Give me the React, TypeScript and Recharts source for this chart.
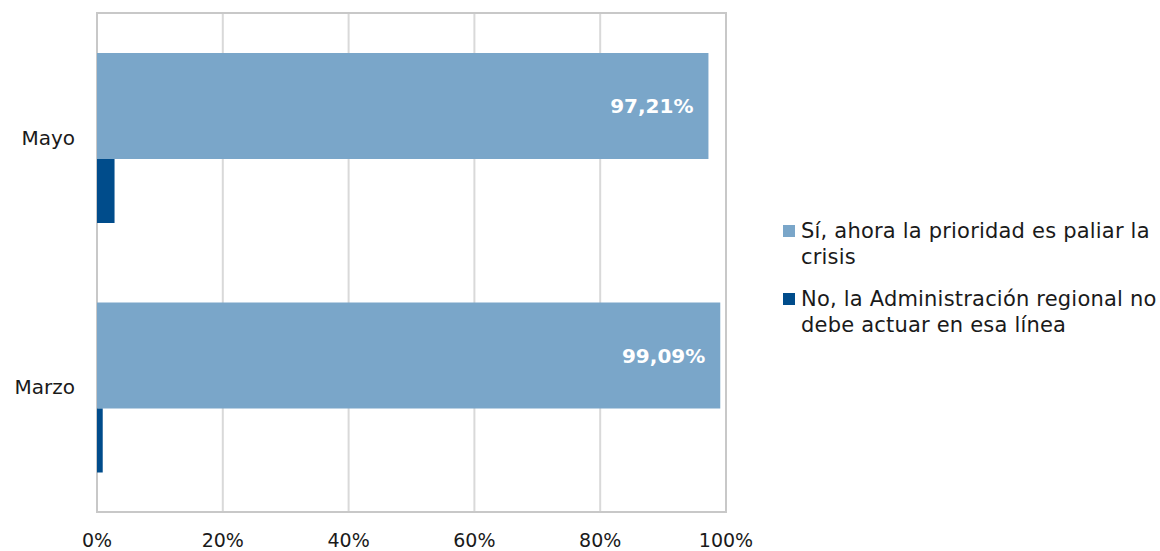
import React from 'react';
import {
  BarChart,
  Bar,
  XAxis,
  YAxis,
  CartesianGrid,
  LabelList,
  ReferenceArea
} from 'recharts';

const categories = ['Mayo', 'Marzo'];
const siValues = [97.21, 99.09];
const noValues = [2.79, 0.91];
const xTicks = [0, 20, 40, 60, 80, 100];

const SERIES = [
  { key: 'si', lines: ['Sí, ahora la prioridad es paliar la', 'crisis'], color: '#7aa6c9' },
  { key: 'no', lines: ['No, la Administración regional no', 'debe actuar en esa línea'], color: '#004c8b' }
];

const data = categories.map((name, i) => ({
  name,
  si: siValues[i],
  no: noValues[i]
}));

const FONT = '"DejaVu Sans", Verdana, sans-serif';

const formatPct = (v: number) => v.toFixed(2).replace('.', ',') + '%';

const App: React.FC = () => {
  return (
    <div
      style={{
        position: 'absolute',
        left: 0,
        top: 0,
        width: 1160,
        height: 551,
        background: '#ffffff',
        fontFamily: FONT
      }}
    >
      <BarChart
        width={1160}
        height={551}
        data={data}
        layout="vertical"
        barGap={0}
        margin={{ top: 13, right: 434, left: 0, bottom: 0 }}
      >
        <CartesianGrid horizontal={false} stroke="#d9d9d9" strokeWidth={2} />
        <ReferenceArea
          x1={0}
          x2={100}
          fill="none"
          stroke="#c8c8c8"
          strokeWidth={2}
          ifOverflow="visible"
        />
        <XAxis
          type="number"
          domain={[0, 100]}
          ticks={xTicks}
          tickFormatter={(v) => `${v}%`}
          axisLine={false}
          tickLine={false}
          tickSize={0}
          tickMargin={22}
          height={39}
          tick={{ fontSize: 19, fill: '#1a1a1a', fontFamily: FONT }}
        />
        <YAxis
          type="category"
          dataKey="name"
          axisLine={false}
          tickLine={false}
          tickSize={0}
          tickMargin={22}
          width={97}
          tick={{ fontSize: 20, fill: '#1a1a1a', fontFamily: FONT }}
        />
        <Bar dataKey="si" fill={SERIES[0].color} barSize={106} isAnimationActive={false}>
          <LabelList
            dataKey="si"
            position="insideRight"
            offset={15}
            formatter={(v: any) => formatPct(Number(v))}
            style={{ fill: '#ffffff', fontWeight: 'bold', fontSize: 20, fontFamily: FONT }}
          />
        </Bar>
        <Bar dataKey="no" fill={SERIES[1].color} barSize={64} isAnimationActive={false} />
      </BarChart>
      <div
        style={{
          position: 'absolute',
          left: 783,
          top: 218,
          color: '#1a1a1a',
          fontSize: 21,
          letterSpacing: 0.2
        }}
      >
        {SERIES.map((s) => (
          <div key={s.key} style={{ position: 'relative', paddingLeft: 18, marginBottom: 16, lineHeight: '26px' }}>
            <span
              style={{
                position: 'absolute',
                left: 0,
                top: 7,
                width: 12,
                height: 12,
                background: s.color
              }}
            />
            {s.lines.map((l, i) => (
              <div key={i} style={{ whiteSpace: 'nowrap' }}>{l}</div>
            ))}
          </div>
        ))}
      </div>
    </div>
  );
};

export default App;
